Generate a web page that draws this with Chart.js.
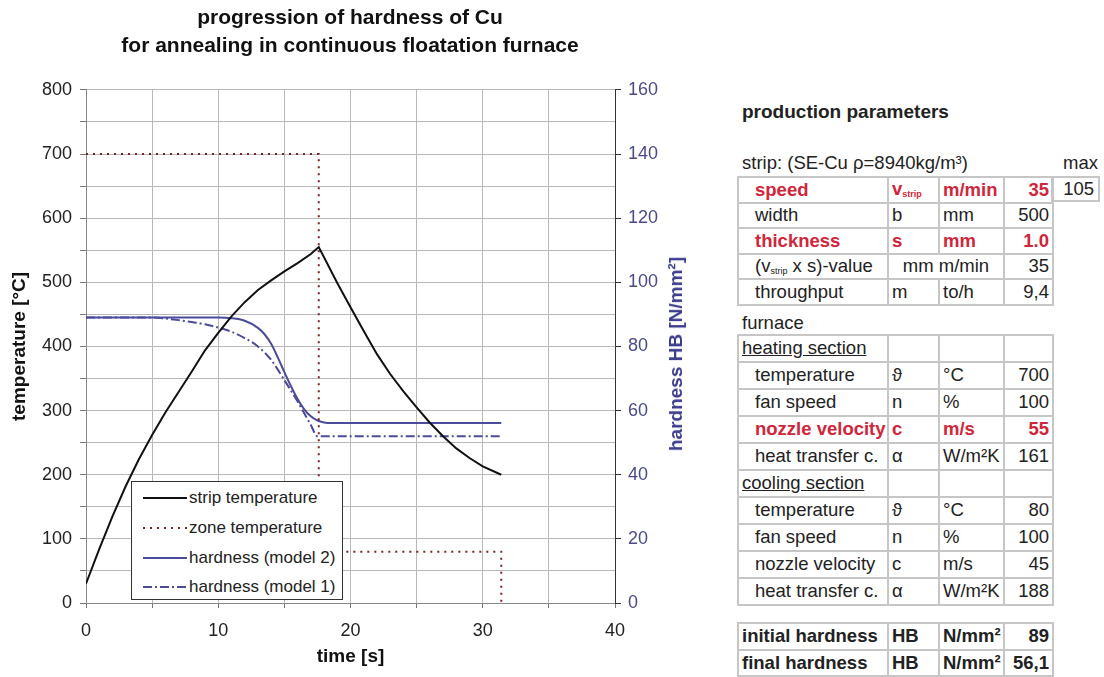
<!DOCTYPE html>
<html>
<head>
<meta charset="utf-8">
<script src="https://cdn.jsdelivr.net/npm/chart.js@4.4.1/dist/chart.umd.min.js"></script>
<style>
  html, body { margin:0; padding:0; background:#fff; }
  body { width:1104px; height:677px; position:relative; overflow:hidden;
         font-family:'Liberation Sans', Arial, sans-serif; color:#222; }
  #chartBox { position:absolute; left:0; top:0; width:700px; height:677px; }
  .abs { position:absolute; white-space:nowrap; }
  #legendBox { position:absolute; left:131px; top:481px; width:212px; height:119px;
               box-sizing:border-box; border:1px solid #333; background:#fff; font-size:17px; color:#222; }
  .lgRow { position:absolute; left:0; height:30px; width:210px; }
  .lgRow svg { position:absolute; left:11px; top:0; }
  .lgRow span { position:absolute; left:57px; top:50%; transform:translateY(-50%); white-space:nowrap; }
  #rTitle { position:absolute; left:676px; top:354px; transform:translate(-50%,-50%) rotate(-90deg);
            font-weight:bold; font-size:19px; color:#3d3d8f; white-space:nowrap; }
  table.pt { position:absolute; left:737px; border-collapse:collapse; table-layout:fixed; width:315px;
             font-size:18.5px; color:#222; }
  table.pt td { border:2px solid #c6c6c6; padding:0 3px; white-space:nowrap; overflow:visible; line-height:1; }
  table.pt td.ind { padding-left:16px; }
  table.pt td.num { text-align:right; }
  .red { color:#d0263a; font-weight:bold; }
  .b { font-weight:bold; }
  .u { text-decoration:underline; }
  sub.s { font-size:9px; vertical-align:-2px; }
</style>
</head>
<body>
<div id="chartBox"><canvas id="c" width="700" height="677"></canvas></div>

<div id="legendBox">
  <div class="lgRow" style="top:1px"><svg width="44" height="30"><line x1="0" y1="15" x2="44" y2="15" stroke="#111" stroke-width="2"/></svg><span id="lg0"></span></div>
  <div class="lgRow" style="top:31px"><svg width="44" height="30"><line x1="0" y1="15" x2="44" y2="15" stroke="#7a2323" stroke-width="2" stroke-dasharray="2,5"/></svg><span id="lg1"></span></div>
  <div class="lgRow" style="top:61px"><svg width="44" height="30"><line x1="0" y1="15" x2="44" y2="15" stroke="#4b4b9b" stroke-width="2"/></svg><span id="lg2"></span></div>
  <div class="lgRow" style="top:90px"><svg width="44" height="30"><line x1="0" y1="15" x2="44" y2="15" stroke="#4b4b9b" stroke-width="2" stroke-dasharray="9,3,2,3"/></svg><span id="lg3"></span></div>
</div>
<div id="rTitle">hardness HB [N/mm²]</div>

<div class="abs b" style="left:742px; top:101px; font-size:19px;">production parameters</div>
<div class="abs" style="left:742px; top:152px; font-size:18.5px;">strip: (SE-Cu ρ=8940kg/m³)</div>
<div class="abs" style="left:1063px; top:152px; font-size:18.5px;">max</div>
<div class="abs" style="left:1051px; top:176px; width:49px; height:26px; box-sizing:border-box; border:2px solid #c6c6c6; font-size:18.5px; text-align:right; padding-right:4px; line-height:22px;">105</div>

<table class="pt" style="top:176px;">
  <colgroup><col style="width:150px"><col style="width:51px"><col style="width:65px"><col style="width:49px"></colgroup>
  <tr style="height:25.5px"><td class="ind red">speed</td><td class="red">v<sub class="s">strip</sub></td><td class="red">m/min</td><td class="num red">35</td></tr>
  <tr style="height:25.5px"><td class="ind">width</td><td>b</td><td>mm</td><td class="num">500</td></tr>
  <tr style="height:25.5px"><td class="ind red">thickness</td><td class="red">s</td><td class="red">mm</td><td class="num red">1.0</td></tr>
  <tr style="height:25.5px"><td class="ind">(v<sub class="s">strip</sub> x s)-value</td><td colspan="2" style="text-align:center;">mm m/min</td><td class="num">35</td></tr>
  <tr style="height:25.5px"><td class="ind">throughput</td><td>m</td><td>to/h</td><td class="num">9,4</td></tr>
</table>

<div class="abs" style="left:742px; top:312px; font-size:18.5px;">furnace</div>

<table class="pt" style="top:334px;">
  <colgroup><col style="width:150px"><col style="width:51px"><col style="width:65px"><col style="width:49px"></colgroup>
  <tr style="height:27px"><td class="u">heating section</td><td></td><td></td><td></td></tr>
  <tr style="height:27px"><td class="ind">temperature</td><td>ϑ</td><td>°C</td><td class="num">700</td></tr>
  <tr style="height:27px"><td class="ind">fan speed</td><td>n</td><td>%</td><td class="num">100</td></tr>
  <tr style="height:27px"><td class="ind red">nozzle velocity</td><td class="red">c</td><td class="red">m/s</td><td class="num red">55</td></tr>
  <tr style="height:27px"><td class="ind">heat transfer c.</td><td>α</td><td>W/m²K</td><td class="num">161</td></tr>
  <tr style="height:27px"><td class="u">cooling section</td><td></td><td></td><td></td></tr>
  <tr style="height:27px"><td class="ind">temperature</td><td>ϑ</td><td>°C</td><td class="num">80</td></tr>
  <tr style="height:27px"><td class="ind">fan speed</td><td>n</td><td>%</td><td class="num">100</td></tr>
  <tr style="height:27px"><td class="ind">nozzle velocity</td><td>c</td><td>m/s</td><td class="num">45</td></tr>
  <tr style="height:27px"><td class="ind">heat transfer c.</td><td>α</td><td>W/m²K</td><td class="num">188</td></tr>
</table>

<table class="pt" style="top:622px;">
  <colgroup><col style="width:150px"><col style="width:51px"><col style="width:65px"><col style="width:49px"></colgroup>
  <tr style="height:26.5px"><td class="b">initial hardness</td><td class="b">HB</td><td class="b">N/mm²</td><td class="num b">89</td></tr>
  <tr style="height:26.5px"><td class="b">final hardness</td><td class="b">HB</td><td class="b">N/mm²</td><td class="num b">56,1</td></tr>
</table>

<script>
// ---- data ----
const titleLines = ["progression of hardness of Cu", "for annealing in continuous floatation furnace"];
const seriesNames = ["strip temperature", "zone temperature", "hardness (model 2)", "hardness (model 1)"];

const stripTime = [0,1,2,3,4,5,6,7,8,9,10,11,12,13,14,15,16,17,17.6,19,20,21,22,23,24,25,26,27,28,29,30,31.4];
const stripTemp = [30,84,135,182,224,262,297,329,361,394,421,447,469,488,503,517,530,544,555,499,461,424,388,357,330,305,281,260,241,226,213,200];

const zoneTime = [0,17.6,17.6,31.4,31.4];
const zoneTemp = [700,700,80,80,0];

const m2Time = [0,10,11,12,13,13.5,14,14.5,15,15.5,16,16.5,17,17.5,18,18.5,31.4];
const m2HB   = [89,89,88.8,88,85.8,83.8,80.8,76.6,72,67.6,63.6,60.4,58.2,56.9,56.3,56.1,56.1];

const m1Time = [0,5,6,7,8,9,10,11,12,13,14,15,16,17,17.5,31.4];
const m1HB   = [89,89,88.7,88.2,87.6,86.9,85.9,84.6,82.6,80,75.8,69.5,62.8,55.5,52,52];

const xTicks = [0,10,20,30,40];
const yTicks = [0,100,200,300,400,500,600,700,800];
const y1Ticks = [0,20,40,60,80,100,120,140,160];

const pts = (xs, ys) => xs.map((x, i) => ({x: x, y: ys[i]}));

seriesNames.forEach((n, i) => { document.getElementById('lg' + i).textContent = n; });

Chart.defaults.font.family = "'Liberation Sans', Arial, sans-serif";
Chart.defaults.color = '#222';

const gridCol = '#b9b9b9';

new Chart(document.getElementById('c'), {
  type: 'line',
  data: {
    datasets: [
      { label: seriesNames[0], data: pts(stripTime, stripTemp), yAxisID: 'y',
        borderColor: '#111', borderWidth: 2, pointRadius: 0, tension: 0, fill: false },
      { label: seriesNames[1], data: pts(zoneTime, zoneTemp), yAxisID: 'y',
        borderColor: '#7a2323', borderWidth: 2, borderDash: [2, 5], pointRadius: 0, tension: 0, fill: false },
      { label: seriesNames[2], data: pts(m2Time, m2HB), yAxisID: 'y1',
        borderColor: '#4b4b9b', borderWidth: 2, pointRadius: 0, cubicInterpolationMode: 'monotone', fill: false },
      { label: seriesNames[3], data: pts(m1Time, m1HB), yAxisID: 'y1',
        borderColor: '#4b4b9b', borderWidth: 2, borderDash: [9, 3, 2, 3], pointRadius: 0, cubicInterpolationMode: 'monotone', fill: false }
    ]
  },
  options: {
    responsive: false,
    animation: false,
    events: [],
    plugins: {
      legend: { display: false },
      tooltip: { enabled: false },
      title: { display: true, text: titleLines, color: '#111',
               font: { size: 21, weight: 'bold', lineHeight: 1.33 }, padding: { top: 4, bottom: 30 } }
    },
    scales: {
      x: {
        type: 'linear', min: 0, max: 40,
        ticks: { stepSize: 5, color: '#222', font: { size: 18 }, padding: 12, maxRotation: 0,
                 callback: v => xTicks.includes(v) ? String(v) : '' },
        grid: { color: gridCol, lineWidth: 1, tickLength: 5, tickColor: '#777' },
        border: { color: '#888', width: 1 },
        title: { display: true, text: 'time [s]', color: '#111', font: { size: 19, weight: 'bold' }, padding: { top: 0, bottom: 9 } },
        afterFit: s => { s.height = 74; }
      },
      y: {
        position: 'left', min: 0, max: 800,
        ticks: { stepSize: 50, color: '#222', font: { size: 18 }, padding: 8,
                 callback: v => yTicks.includes(v) ? String(v) : '' },
        grid: { color: gridCol, lineWidth: 1, tickLength: 6, tickColor: '#777' },
        border: { color: '#888', width: 1 },
        title: { display: true, text: 'temperature [°C]', color: '#111', font: { size: 19, weight: 'bold' }, padding: { top: 8, bottom: 0 } },
        afterFit: s => { s.width = 86; }
      },
      y1: {
        position: 'right', min: 0, max: 160,
        ticks: { stepSize: 20, color: '#4a4a8c', font: { size: 18 }, padding: 7,
                 callback: v => y1Ticks.includes(v) ? String(v) : '' },
        grid: { drawOnChartArea: false, tickLength: 6, tickColor: '#333' },
        border: { color: '#333', width: 1 },
        afterFit: s => { s.width = 85; }
      }
    }
  }
});
</script>
</body>
</html>
